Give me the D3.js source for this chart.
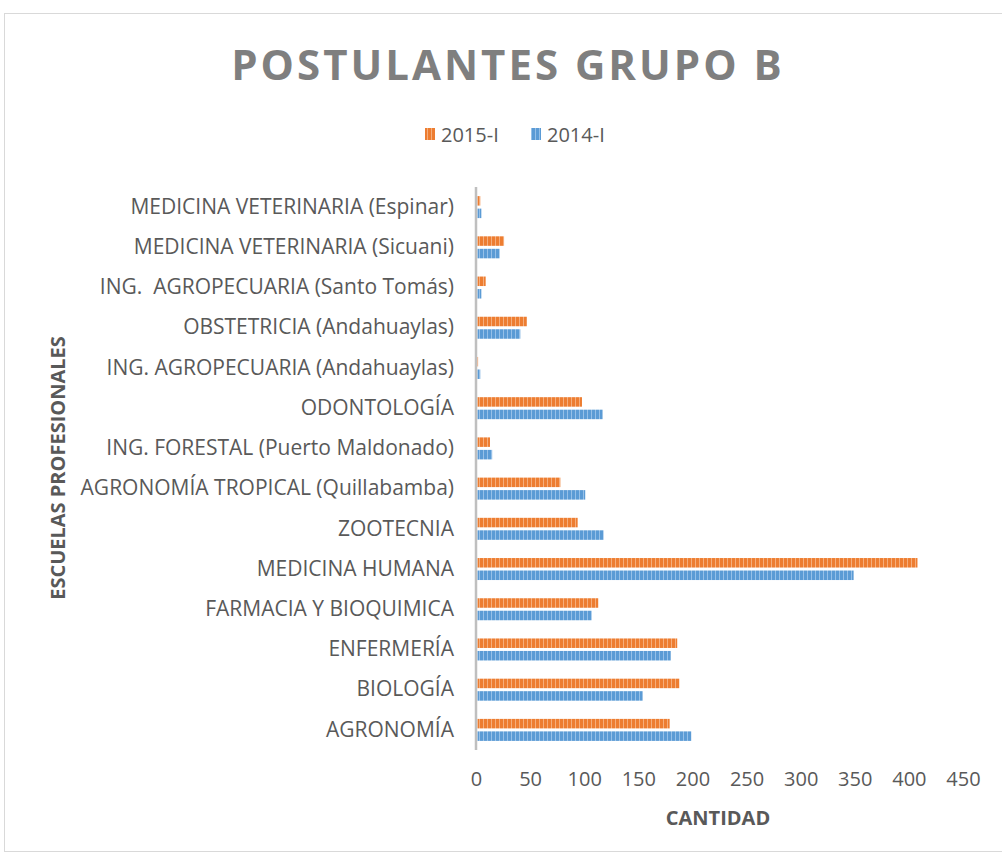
<html>
<head>
<meta charset="utf-8">
<style>
body{margin:0;background:#fff;}
text{font-family:"Open Sans",sans-serif;}
</style>
</head>
<body>
<svg id="graph" width="1002" height="857"></svg>
<script src="https://d3js.org/d3.v7.min.js"></script>
<script>
var categorias = [
	"MEDICINA VETERINARIA (Espinar)",
	"MEDICINA VETERINARIA (Sicuani)",
	"ING.  AGROPECUARIA (Santo Tomás)",
	"OBSTETRICIA (Andahuaylas)",
	"ING. AGROPECUARIA (Andahuaylas)",
	"ODONTOLOGÍA",
	"ING. FORESTAL (Puerto Maldonado)",
	"AGRONOMÍA TROPICAL (Quillabamba)",
	"ZOOTECNIA",
	"MEDICINA HUMANA",
	"FARMACIA Y BIOQUIMICA",
	"ENFERMERÍA",
	"BIOLOGÍA",
	"AGRONOMÍA"
];
var serie2015 = [3,25,8,46,1,97,12,77,93,407,112,185,187,178];
var serie2014 = [4,21,4,40,3,116,14,100,117,348,106,179,153,198];
var ticksX = [0,50,100,150,200,250,300,350,400,450];
var series = [
	{nombre:"2015-I", valores:serie2015, color:"#ED7D31", claro:"#F5AE7C", pat:"p15"},
	{nombre:"2014-I", valores:serie2014, color:"#5B9BD5", claro:"#96C0E8", pat:"p14"}
];

var svg = d3.select('#graph');
var gris = "#595959";

// marco del grafico
svg.append('rect')
	.attr('x',4.5).attr('y',13.5)
	.attr('width',1010).attr('height',838)
	.attr('fill','#fff')
	.attr('stroke','#D9D9D9');

// patrones de rayas verticales
var defs = svg.append('defs');
series.forEach(function(s){
	var p = defs.append('pattern')
		.attr('id',s.pat)
		.attr('patternUnits','userSpaceOnUse')
		.attr('width',4).attr('height',4);
	p.append('rect').attr('width',4).attr('height',4).attr('fill',s.color);
	p.append('rect').attr('x',3).attr('width',1).attr('height',4).attr('fill',s.claro);
});

var x = d3.scaleLinear().domain([0,450]).range([476,963]);
var y = d3.scaleBand().domain(categorias).range([187,750]);

// titulo
svg.append('text')
	.attr('x',508).attr('y',80)
	.attr('text-anchor','middle')
	.style('font-size','42px')
	.style('font-weight','bold')
	.style('letter-spacing','3px')
	.style('fill','#7F7F7F')
	.text('POSTULANTES GRUPO B');

// leyenda
var leyenda = svg.append('g');
var lx = [425,531];
series.forEach(function(s,i){
	leyenda.append('rect')
		.attr('x',lx[i]).attr('y',128)
		.attr('width',10).attr('height',12)
		.attr('fill','url(#'+s.pat+')');
	leyenda.append('text')
		.attr('x',lx[i]+16).attr('y',142)
		.style('font-size','20px')
		.style('fill',gris)
		.text(s.nombre);
});

// barras
var offs = [-11,1.5];
series.forEach(function(s,i){
	svg.append('g')
		.selectAll('rect')
		.data(s.valores)
		.enter()
		.append('rect')
		.attr('x',x(0)+1.5)
		.attr('y',function(d,j){return y(categorias[j])+y.bandwidth()/2+offs[i];})
		.attr('width',function(d){return Math.max(0,x(d)-x(0)-0.5);})
		.attr('height',9.5)
		.attr('fill','url(#'+s.pat+')');
});

// eje x (solo etiquetas)
var ejeX = svg.append('g')
	.attr('transform','translate(0,772)')
	.call(d3.axisBottom(x).tickValues(ticksX).tickSize(0).tickPadding(0));
ejeX.select('.domain').remove();
ejeX.selectAll('text')
	.style('font-family','"Open Sans",sans-serif')
	.style('font-size','20px')
	.style('fill',gris);

// eje y
var ejeY = svg.append('g')
	.attr('transform','translate('+x(0)+',0)')
	.call(d3.axisLeft(y).tickSize(0).tickPadding(22));
ejeY.select('.domain').remove();
ejeY.selectAll('text')
	.style('font-family','"Open Sans",sans-serif')
	.style('font-size','21px')
	.style('fill',gris)
	.style('white-space','pre');
svg.append('line')
	.attr('x1',x(0)).attr('x2',x(0))
	.attr('y1',187).attr('y2',750)
	.attr('stroke','#BFBFBF')
	.attr('stroke-width',2.5);

// titulos de ejes
svg.append('text')
	.attr('x',718).attr('y',825)
	.attr('text-anchor','middle')
	.style('font-size','20px')
	.style('font-weight','bold')
	.style('fill',gris)
	.text('CANTIDAD');
svg.append('text')
	.attr('transform','translate(65,468) rotate(-90)')
	.attr('text-anchor','middle')
	.style('font-size','20px')
	.style('font-weight','bold')
	.style('fill',gris)
	.text('ESCUELAS PROFESIONALES');
</script>
</body>
</html>
